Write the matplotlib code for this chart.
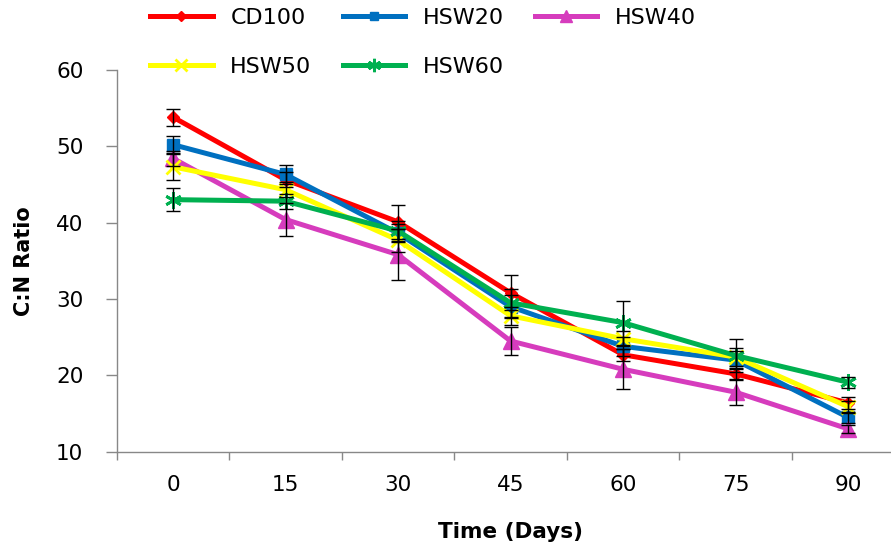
import numpy as np
import matplotlib
matplotlib.use("Agg")
import matplotlib.pyplot as plt

plt.rcParams['font.family'] = ['DejaVu Sans']

days = ['0', '15', '30', '45', '60', '75', '90']

cd100 = [53.8, 45.6, 40.1, 30.8, 22.7, 20.2, 16.4]
hsw20 = [50.2, 46.3, 38.6, 29.0, 23.8, 22.0, 14.5]
hsw40 = [48.4, 40.4, 35.8, 24.5, 20.8, 17.8, 13.0]
hsw50 = [47.3, 44.3, 37.7, 27.8, 24.8, 22.4, 15.9]
hsw60 = [43.0, 42.8, 38.9, 29.5, 26.9, 22.6, 19.1]

cd100_err = [1.1, 1.0, 2.2, 2.3, 0.8, 0.8, 0.8]
hsw20_err = [1.1, 1.3, 1.2, 1.5, 1.2, 1.2, 0.7]
hsw40_err = [1.0, 2.2, 3.3, 1.8, 2.6, 1.7, 0.5]
hsw50_err = [1.7, 1.0, 1.5, 1.2, 1.0, 1.2, 0.8]
hsw60_err = [1.5, 1.0, 1.3, 1.8, 2.9, 2.2, 0.7]

series = [
    ('CD100', cd100, cd100_err, '#ff0000', 'D', 6),
    ('HSW20', hsw20, hsw20_err, '#0070c0', 's', 8),
    ('HSW40', hsw40, hsw40_err, '#d63cbd', '^', 11),
    ('HSW50', hsw50, hsw50_err, '#ffff00', 'x', 10),
    ('HSW60', hsw60, hsw60_err, '#00b050', (6, 2, 0), 12),
]

fig = plt.figure(figsize=(8.91, 5.45), dpi=100)
# categorical axis runs a little past the right edge, as in the original
ax = fig.add_axes([0.131, 0.171, 0.884, 0.701])

x = np.arange(len(days))
handles = {}
for i, (name, vals, err, col, mk, ms) in enumerate(series):
    line, = ax.plot(x, vals, color=col, lw=3.6, marker=mk, ms=ms,
                    mew=2 if mk in ('x', (6, 2, 0)) else 1,
                    mec=col, label=name, zorder=3 + i, clip_on=False)
    handles[name] = line
    ax.errorbar(x, vals, yerr=err, fmt='none', ecolor='black', elinewidth=1.0,
                capsize=5, capthick=1.0, zorder=10)

ax.set_xlim(-0.5, 6.5)
ax.set_ylim(10, 60)
ax.set_yticks(range(10, 61, 10))
ax.set_xticks(x)
ax.set_xticklabels(days)
ax.set_xticks(np.arange(-0.5, 7, 1), minor=True)
ax.tick_params(axis='x', which='major', length=0, labelsize=15.5, pad=17)
ax.tick_params(axis='x', which='minor', length=6, width=1, color='#888888', direction='out')
ax.tick_params(axis='y', length=8, width=1, color='#888888', labelsize=15.5, pad=16)
for s in ['top', 'right']:
    ax.spines[s].set_visible(False)
for s in ['left', 'bottom']:
    ax.spines[s].set_color('#888888')
    ax.spines[s].set_linewidth(1)

ax.set_xlabel('Time (Days)', fontsize=15.5, fontweight='bold', labelpad=19)
ax.set_ylabel('C:N Ratio', fontsize=15, fontweight='bold', labelpad=16)

# row-wise legend: CD100, HSW20, HSW40 / HSW50, HSW60
order = ['CD100', 'HSW50', 'HSW20', 'HSW60', 'HSW40']
fig.legend([handles[n] for n in order], order, loc='center',
           bbox_to_anchor=(0.475, 0.922), ncol=3, frameon=False,
           fontsize=16, handlelength=2.8, columnspacing=1.4, handletextpad=0.8,
           labelspacing=1.3, borderaxespad=0, markerscale=0.8)

fig.savefig('out.png', dpi=100)
